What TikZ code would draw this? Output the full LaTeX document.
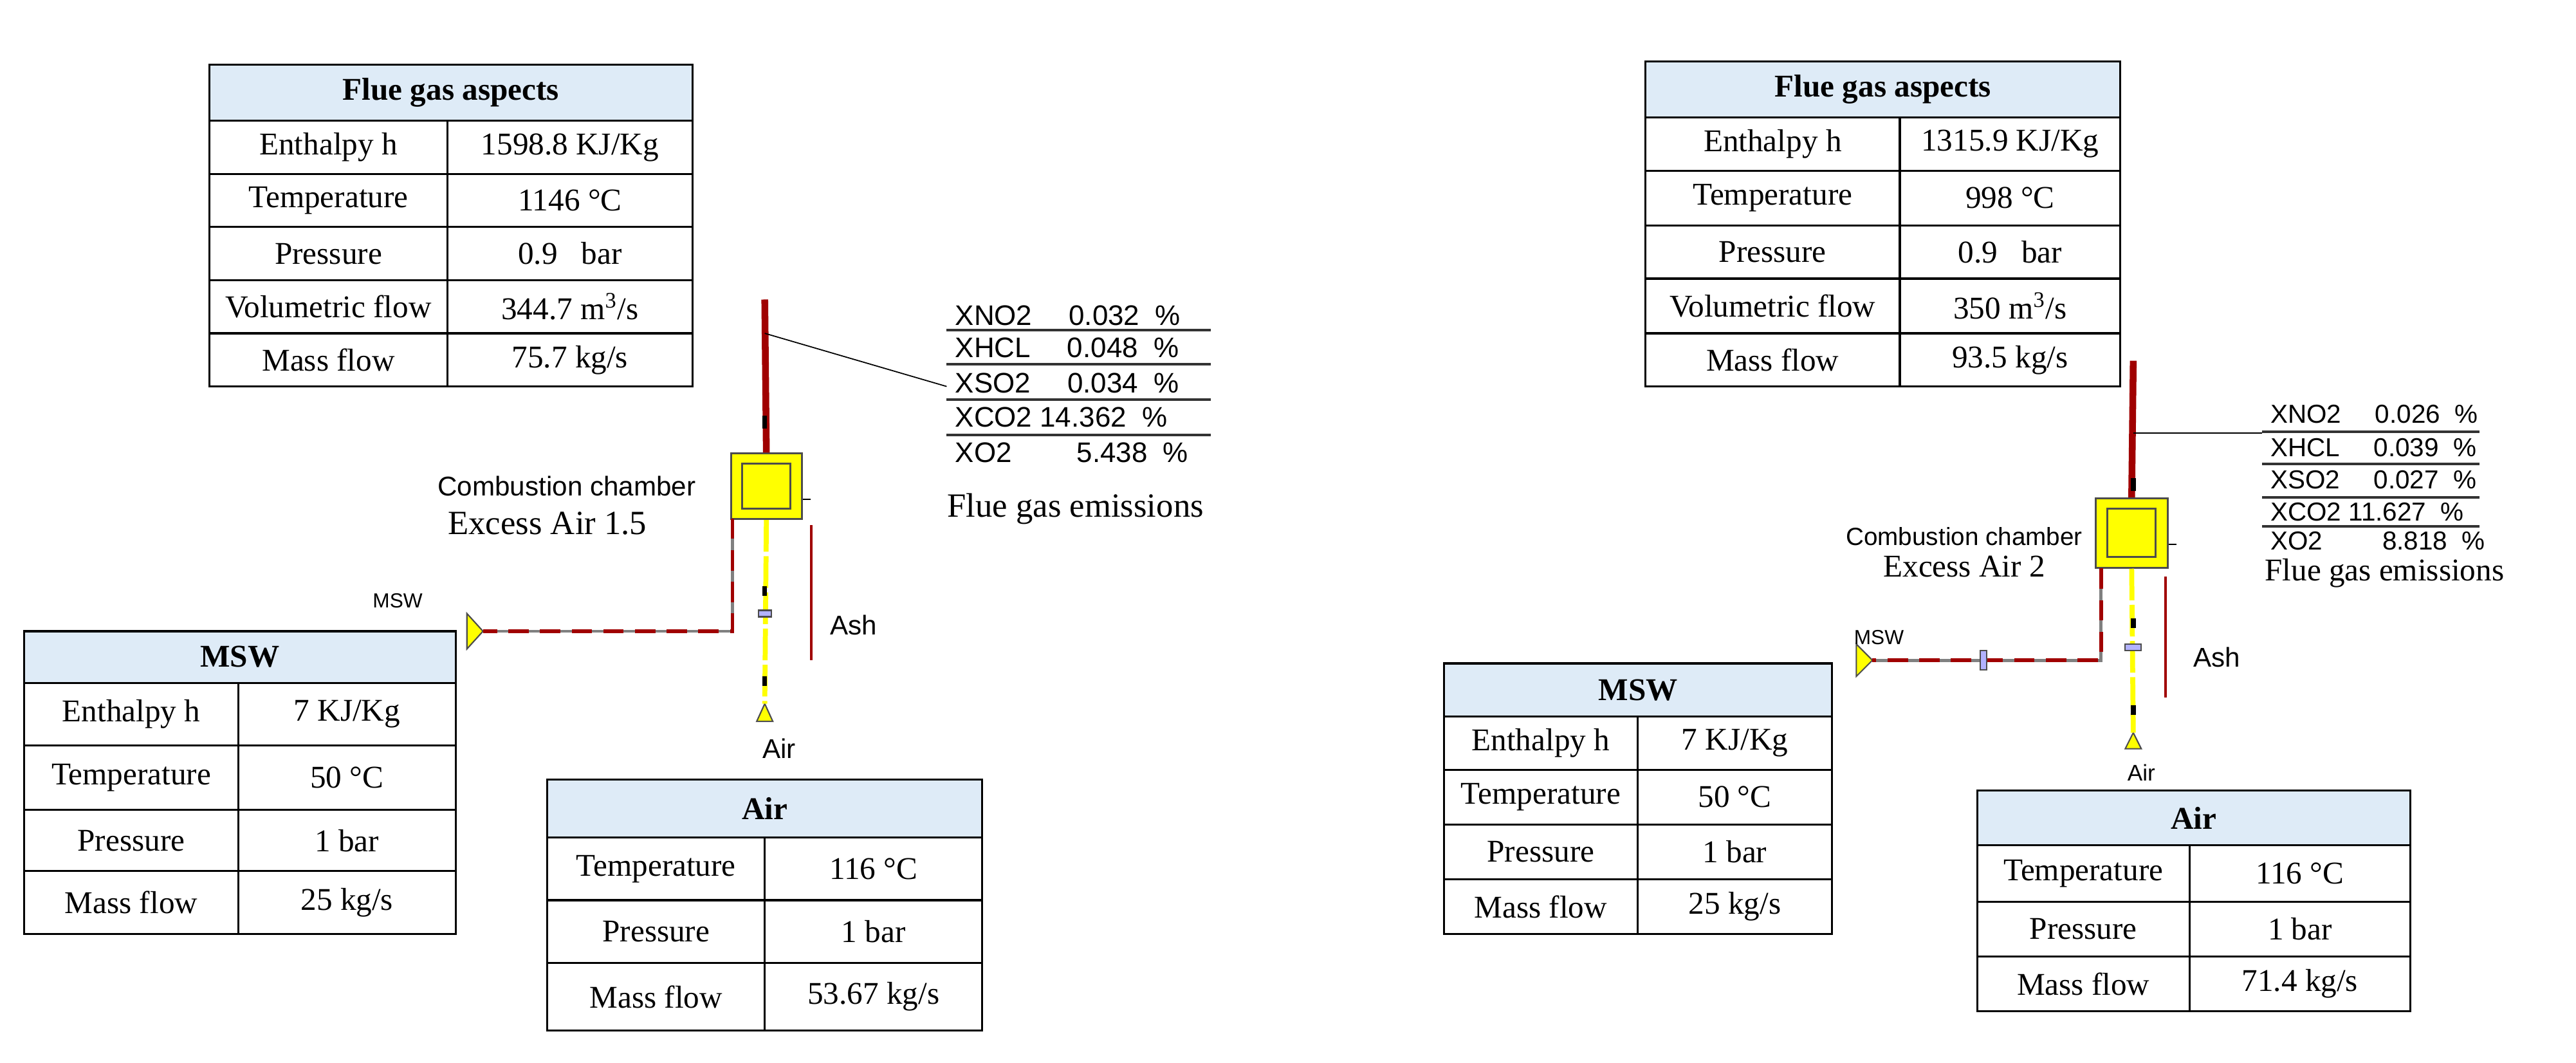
\documentclass[tikz,border=0pt]{standalone}
\usepackage{fontspec}
\setmainfont{Liberation Serif}
\newfontfamily\arialf{Liberation Sans}
\definecolor{hdr}{RGB}{222,235,247}
\definecolor{pipered}{RGB}{160,0,0}
\definecolor{chy}{RGB}{255,255,0}
\def\sl{/}
\begin{document}
\begin{tikzpicture}[x=0.025025cm,y=-0.025025cm,
  cell/.style={font=\fontsize{14}{16}\selectfont,inner sep=0pt},
  hcell/.style={font=\fontsize{14}{16}\selectfont\bfseries,inner sep=0pt},
  lab/.style={font=\arialf\fontsize{12}{14}\selectfont,inner sep=0pt},
  emis/.style={font=\arialf\fontsize{12.5}{14}\selectfont,inner sep=0pt,anchor=west},
  tline/.style={line width=0.9pt},
  redpipe/.style={pipered,line width=3pt},
  thinred/.style={pipered,line width=1.2pt},
  chamber/.style={draw=black!70,fill=chy,line width=0.8pt,inner sep=0pt},
  tri/.style={draw=black!70,fill=chy,line width=0.6pt}]
\useasboundingbox (0,0) rectangle (1600,660);
\newcommand\mytable[8]{%
  \fill[hdr] (#2,#5) rectangle (#4,#6);
  \node[hcell] (#1) at ({(#2+#4)/2},{(#5+#6)/2}) {#7};
  \foreach \yy/\lt/\rt [remember=\yy as \prevy (initially #6)] in {#8} {
    \node[cell] at ({(#2+#3)/2},{(\prevy+\yy)/2}) {\lt};
    \node[cell] at ({(#3+#4)/2},{(\prevy+\yy)/2}) {\rt};
    \draw[tline] (#2,\yy) -- (#4,\yy);
    \draw[tline] (#3,\prevy) -- (#3,\yy);
  }
  \draw[tline] (#2,#5) rectangle (#4,\lasty);
  \draw[tline] (#2,#6) -- (#4,#6);
}
% ---------- LEFT ----------
\def\lasty{240}
\mytable{fgL}{130}{278}{430}{40}{75}{Flue gas aspects}{108/Enthalpy h/1598.8 KJ\sl Kg,141/Temperature/1146 \textdegree C,174/Pressure/0.9\ \ \ bar,207/Volumetric flow/344.7 m\textsuperscript{3}\sl s,240/Mass flow/75.7 kg\sl s}
\def\lasty{580}
\mytable{mswL}{15}{148}{283}{392}{424}{MSW}{463/Enthalpy h/7 KJ\sl Kg,503/Temperature/50 \textdegree C,541/Pressure/1 bar,580/Mass flow/25 kg\sl s}
\def\lasty{640}
\mytable{airL}{340}{475}{610}{484}{520}{Air}{559/Temperature/116 \textdegree C,598/Pressure/1 bar,640/Mass flow/53.67 kg\sl s}
\coordinate (stTopL) at (475,186);
\coordinate (tapL) at (475,207);
\node[chamber,minimum width=1.1cm,minimum height=1.02cm] (chL) at (476,302) {};
\draw[black!70,line width=0.8pt] (chL.center) +(-15,-14) rectangle +(15,14);
\draw[redpipe] (stTopL) -- (chL.north);
\fill[black] (473.5,258) rectangle (476.5,266);
\draw[line width=0.6pt] (chL.east |- 0,310) -- ++(5,0);
\draw[line width=0.5pt] (tapL) -- (588,240);
\node[emis] (e1L) at (593,196) {XNO2\hspace{1.3em}0.032 \ \%};
\node[emis] (e2L) at (593,216) {XHCL\hspace{1.3em}0.048 \ \%};
\node[emis] (e3L) at (593,238) {XSO2\hspace{1.3em}0.034 \ \%};
\node[emis] (e4L) at (593,259) {XCO2 14.362 \ \%};
\node[emis] (e5L) at (593,281) {XO2\hspace{2.3em}5.438 \ \%};
\foreach \yy in {205,226,248,270} \draw[line width=1.1pt,black!80] (588,\yy) -- (752,\yy);
\node[cell,font=\fontsize{15}{17}\selectfont] (fgeL) at (668,316) {Flue gas emissions};
\node[lab] (ccL) at (352,302) {Combustion chamber};
\node[cell,font=\fontsize{15}{17}\selectfont] (exL) at (340,325) {Excess Air 1.5};
\coordinate (mswbendL) at (455,392);
\draw[tri] (290,381) -- (300,392) -- (290,403) -- cycle;
\node[lab,font=\arialf\fontsize{9}{10}\selectfont] (mswlabL) at (247,373) {MSW};
\draw[gray,line width=1.4pt] (300,392) -- (mswbendL) -- (455,322);
\draw[thinred,line width=1.6pt,dash pattern=on 9pt off 5pt] (455,322) -- (mswbendL) -- (300,392);
\draw[tri] (470,448) -- (475,437) -- (480,448) -- cycle;
\draw[chy,line width=2.2pt,dash pattern=on 14pt off 2pt] (chL.south) -- (475,437);
\fill[black] (473.5,364) rectangle (476.5,370);
\fill[black] (473.5,420) rectangle (476.5,426);
\draw[black!70,fill=blue!30,line width=0.6pt] (471,379) rectangle (479,383);
\node[lab] (airlabL) at (484,465) {Air};
\draw[thinred] (504,326) -- (504,410);
\node[lab] (ashL) at (530,388) {Ash};
% ---------- RIGHT ----------
\def\lasty{240}
\mytable{fgR}{1022}{1180}{1317}{38}{73}{Flue gas aspects}{106/Enthalpy h/1315.9 KJ\sl Kg,140/Temperature/998 \textdegree C,173/Pressure/0.9\ \ \ bar,207/Volumetric flow/350 m\textsuperscript{3}\sl s,240/Mass flow/93.5 kg\sl s}
\def\lasty{580}
\mytable{mswR}{897}{1017}{1138}{412}{445}{MSW}{478/Enthalpy h/7 KJ\sl Kg,512/Temperature/50 \textdegree C,546/Pressure/1 bar,580/Mass flow/25 kg\sl s}
\def\lasty{628}
\mytable{airR}{1228}{1360}{1497}{491}{525}{Air}{560/Temperature/116 \textdegree C,594/Pressure/1 bar,628/Mass flow/71.4 kg\sl s}
\coordinate (stTopR) at (1325,224);
\coordinate (tapR) at (1325,269);
\node[chamber,minimum width=1.12cm,minimum height=1.08cm] (chR) at (1324,331) {};
\draw[black!70,line width=0.8pt] (chR.center) +(-15,-15) rectangle +(15,15);
\draw[redpipe] (stTopR) -- (chR.north);
\fill[black] (1323.5,297) rectangle (1326.5,305);
\draw[line width=0.6pt] (chR.east |- 0,338) -- ++(5,0);
\draw[line width=0.5pt] (tapR) -- (1405,269);
\node[emis,font=\arialf\fontsize{11.5}{13}\selectfont] (e1R) at (1410,257) {XNO2\hspace{1.3em}0.026 \ \%};
\node[emis,font=\arialf\fontsize{11.5}{13}\selectfont] (e2R) at (1410,278) {XHCL\hspace{1.3em}0.039 \ \%};
\node[emis,font=\arialf\fontsize{11.5}{13}\selectfont] (e3R) at (1410,298) {XSO2\hspace{1.3em}0.027 \ \%};
\node[emis,font=\arialf\fontsize{11.5}{13}\selectfont] (e4R) at (1410,318) {XCO2 11.627 \ \%};
\node[emis,font=\arialf\fontsize{11.5}{13}\selectfont] (e5R) at (1410,336) {XO2\hspace{2.3em}8.818 \ \%};
\foreach \yy in {268,288,309,327} \draw[line width=1.1pt,black!80] (1405,\yy) -- (1540,\yy);
\node[cell] (fgeR) at (1481,356) {Flue gas emissions};
\node[lab,font=\arialf\fontsize{11}{13}\selectfont] (ccR) at (1220,333) {Combustion chamber};
\node[cell] (exR) at (1220,352) {Excess Air 2};
\coordinate (mswbendR) at (1305,410);
\draw[tri] (1153,400) -- (1163,410) -- (1153,420) -- cycle;
\node[lab,font=\arialf\fontsize{9}{10}\selectfont] (mswlabR) at (1167,396) {MSW};
\draw[gray,line width=1.4pt] (1163,410) -- (mswbendR) -- (1305,353);
\draw[thinred,line width=1.6pt,dash pattern=on 9pt off 5pt] (1305,353) -- (mswbendR) -- (1163,410);
\draw[black!70,fill=blue!30,line width=0.6pt] (1230,404) rectangle (1234,416);
\draw[tri] (1320,465) -- (1325,455) -- (1330,465) -- cycle;
\draw[chy,line width=2.2pt,dash pattern=on 14pt off 2pt] (chR.south) -- (1325,455);
\fill[black] (1323.5,384) rectangle (1326.5,390);
\fill[black] (1323.5,438) rectangle (1326.5,444);
\draw[black!70,fill=blue!30,line width=0.6pt] (1320,400) rectangle (1330,404);
\node[lab,font=\arialf\fontsize{10}{12}\selectfont] (airlabR) at (1330,480) {Air};
\draw[thinred] (1345,358) -- (1345,433);
\node[lab] (ashR) at (1377,408) {Ash};
\end{tikzpicture}
\end{document}
